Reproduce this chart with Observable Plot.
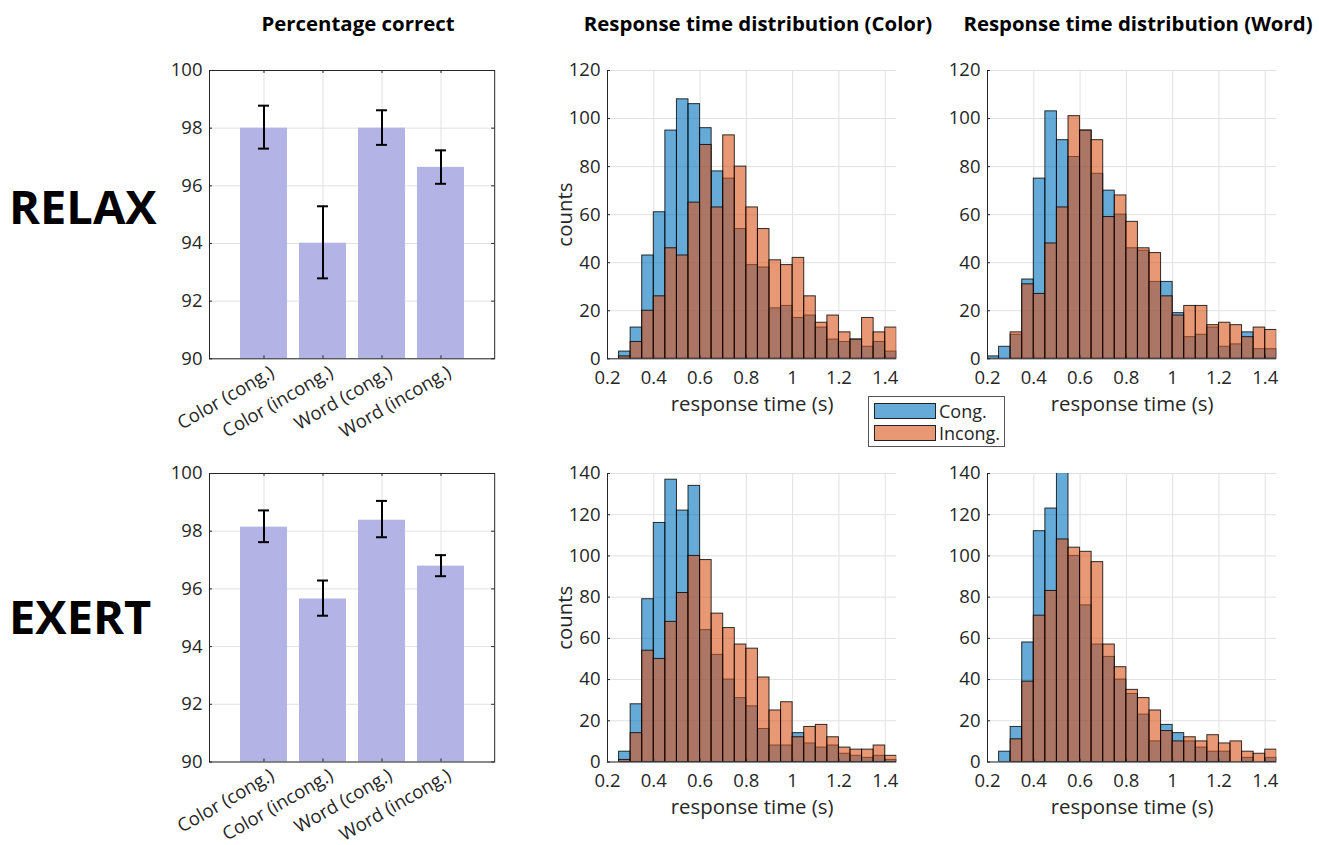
<!DOCTYPE html>
<html>
<head>
<meta charset="utf-8">
<script src="https://cdn.jsdelivr.net/npm/d3@7"></script>
<script src="https://cdn.jsdelivr.net/npm/@observablehq/plot@0.6"></script>
<style>
  html, body { margin: 0; padding: 0; background: #fff; }
  #root { position: relative; width: 1319px; height: 845px; overflow: hidden; font-family: "Open Sans", sans-serif; color: #000; }
  .abs { position: absolute; white-space: nowrap; }
  .title { font-weight: 700; font-size: 20.4px; line-height: 20.4px; text-align: center; width: 440px; color: #000; }
  .cond { font-weight: 700; font-size: 47px; line-height: 47px; color: #000; }
  #legend { position: absolute; left: 868px; top: 396px; width: 135px; height: 49px; border: 1px solid #555; background: #fff; }
  .lg-row { position: absolute; left: 5px; height: 17px; display: flex; align-items: center; }
  .lg-sw { width: 62px; height: 16px; border: 1px solid #222; box-sizing: border-box; }
  .lg-tx { margin-left: 3px; font-size: 18px; color: #262626; line-height: 18px; }
</style>
</head>
<body>
<div id="root"></div>
<script>
// ---------------- data ----------------
const categories = ["Color (cong.)", "Color (incong.)", "Word (cong.)", "Word (incong.)"];
const relaxMean = [98.0, 94.01, 98.0, 96.64];
const relaxLow  = [97.29, 92.79, 97.42, 96.07];
const relaxHigh = [98.78, 95.29, 98.62, 97.23];
const exertMean = [98.14, 95.65, 98.38, 96.79];
const exertLow  = [97.62, 95.07, 97.79, 96.44];
const exertHigh = [98.72, 96.29, 99.05, 97.17];

const binEdges = [0.20, 0.25, 0.30, 0.35, 0.40, 0.45, 0.50, 0.55, 0.60, 0.65, 0.70, 0.75, 0.80,
                  0.85, 0.90, 0.95, 1.00, 1.05, 1.10, 1.15, 1.20, 1.25, 1.30, 1.35, 1.40, 1.45];

const relaxColorCong = [0, 3, 13, 43, 61, 95, 108, 106, 96, 78, 75, 54, 39, 38, 21, 22, 17, 18, 13, 8, 7, 8, 5, 7, 3];
const relaxColorInc  = [0, 1, 7, 20, 26, 46, 43, 65, 89, 63, 93, 80, 63, 54, 41, 39, 42, 26, 15, 18, 11, 8, 17, 11, 13];
const relaxWordCong  = [1, 5, 10, 33, 75, 103, 91, 84, 95, 77, 70, 60, 46, 45, 32, 32, 19, 9, 10, 13, 5, 6, 11, 4, 4];
const relaxWordInc   = [0, 0, 11, 31, 27, 48, 63, 101, 95, 91, 59, 68, 57, 46, 44, 26, 18, 22, 22, 14, 15, 14, 9, 13, 12];
const exertColorCong = [0, 5, 28, 79, 116, 137, 122, 134, 64, 52, 40, 31, 27, 16, 8, 8, 14, 9, 7, 8, 4, 3, 2, 3, 1];
const exertColorInc  = [0, 1, 14, 54, 50, 68, 82, 100, 98, 72, 65, 57, 55, 41, 25, 29, 12, 17, 18, 12, 7, 6, 6, 8, 3];
const exertWordCong  = [0, 5, 17, 58, 112, 123, 142, 100, 76, 57, 51, 40, 33, 23, 10, 18, 14, 10, 7, 5, 5, 0, 2, 0, 2];
const exertWordInc   = [0, 0, 11, 39, 71, 83, 108, 104, 102, 97, 57, 46, 35, 31, 25, 15, 10, 12, 10, 13, 9, 10, 5, 4, 6];

const seriesNames = ["Cong.", "Incong."];
const seriesColors = ["#0072BD", "#D95319"];

const rtTicks = [0.2, 0.4, 0.6, 0.8, 1, 1.2, 1.4];
const countTicksRelax = [0, 20, 40, 60, 80, 100, 120];
const countTicksExert = [0, 20, 40, 60, 80, 100, 120, 140];
const pcTicks = [90, 92, 94, 96, 98, 100];

const panelTitles = ["Percentage correct", "Response time distribution (Color)", "Response time distribution (Word)"];
const conditions = ["RELAX", "EXERT"];

// ---------------- helpers ----------------
const root = document.getElementById("root");
const axisColor = "#262626";
const gridColor = "#e1e1e1";
const tickFont = 18.5;
const labelFont = 20.4;
const baseStyle = { background: "transparent", overflow: "visible", fontFamily: "'Open Sans', sans-serif", fontSize: tickFont + "px", color: axisColor };

function place(el, left, top) {
  el.style.position = "absolute";
  el.style.left = left + "px";
  el.style.top = top + "px";
  root.appendChild(el);
}

function hist(cong, inc, yTicks, frame, showYLabel) {
  const mL = 60, mR = 12, mT = 10, mB = 70;
  const fw = frame.right - frame.left, fh = frame.bottom - frame.top;
  const toRows = arr => arr.map((n, i) => ({x1: binEdges[i], x2: binEdges[i + 1], n})).filter(d => d.n > 0);
  const marks = [
    Plot.gridX(rtTicks, {stroke: gridColor, strokeOpacity: 1}),
    Plot.gridY(yTicks, {stroke: gridColor, strokeOpacity: 1}),
    Plot.rect(toRows(cong), {x1: "x1", x2: "x2", y1: 0, y2: "n", fill: seriesColors[0], fillOpacity: 0.6, stroke: "#000", strokeOpacity: 0.8, strokeWidth: 1, clip: true}),
    Plot.rect(toRows(inc), {x1: "x1", x2: "x2", y1: 0, y2: "n", fill: seriesColors[1], fillOpacity: 0.6, stroke: "#000", strokeOpacity: 0.8, strokeWidth: 1, clip: true}),
    Plot.ruleX([binEdges[0]], {stroke: axisColor}),
    Plot.ruleY([0], {stroke: axisColor}),
    Plot.tickX(rtTicks, {x: d => d, insetTop: fh - 3, stroke: axisColor}),
    Plot.tickY(yTicks, {y: d => d, insetRight: fw - 3, stroke: axisColor}),
    Plot.axisX(rtTicks, {tickSize: 0, tickPadding: 12, tickFormat: d => String(d), label: null, fontSize: tickFont, fill: axisColor}),
    Plot.axisY(yTicks, {tickSize: 0, tickPadding: 7, label: null, fontSize: tickFont, fill: axisColor}),
    Plot.text(["response time (s)"], {frameAnchor: "bottom", textAnchor: "middle", dy: 52.5, fontSize: labelFont, fill: axisColor})
  ];
  if (showYLabel) marks.push(Plot.text(["counts"], {frameAnchor: "left", textAnchor: "middle", dx: -42, rotate: -90, fontSize: labelFont, fill: axisColor}));
  const svg = Plot.plot({
    width: mL + fw + mR, height: mT + fh + mB,
    marginLeft: mL, marginRight: mR, marginTop: mT, marginBottom: mB,
    style: baseStyle,
    x: {domain: [binEdges[0], binEdges[binEdges.length - 1]]},
    y: {domain: [0, yTicks[yTicks.length - 1]]},
    marks
  });
  place(svg, frame.left - mL, frame.top - mT);
}

function bars(mean, low, high, frame) {
  const mL = 60, mR = 12, mT = 10, mB = 110;
  const fw = frame.right - frame.left, fh = frame.bottom - frame.top;
  const rows = categories.map((c, i) => ({c, m: mean[i], lo: low[i], hi: high[i]}));
  const capInset = 18;
  const svg = Plot.plot({
    width: mL + fw + mR, height: mT + fh + mB,
    marginLeft: mL, marginRight: mR, marginTop: mT, marginBottom: mB,
    style: baseStyle,
    x: {domain: categories, type: "band", paddingInner: 0.2, paddingOuter: 0.5, axis: null},
    y: {domain: [pcTicks[0], pcTicks[pcTicks.length - 1]]},
    marks: [
      Plot.gridY(pcTicks, {stroke: gridColor, strokeOpacity: 1}),
      Plot.ruleX(categories, {x: d => d, stroke: gridColor}),
      Plot.barY(rows, {x: "c", y1: pcTicks[0], y2: "m", fill: "#b3b3e6"}),
      Plot.ruleX(rows, {x: "c", y1: "lo", y2: "hi", stroke: "#000", strokeWidth: 2}),
      Plot.tickY(rows, {x: "c", y: "lo", insetLeft: capInset, insetRight: capInset, stroke: "#000", strokeWidth: 2}),
      Plot.tickY(rows, {x: "c", y: "hi", insetLeft: capInset, insetRight: capInset, stroke: "#000", strokeWidth: 2}),
      Plot.frame({stroke: axisColor}),
      Plot.tickX(categories, {x: d => d, insetTop: fh - 3, stroke: axisColor}),
      Plot.tickX(categories, {x: d => d, insetBottom: fh - 3, stroke: axisColor}),
      Plot.tickY(pcTicks, {y: d => d, insetRight: fw - 3, stroke: axisColor}),
      Plot.tickY(pcTicks, {y: d => d, insetLeft: fw - 3, stroke: axisColor}),
      Plot.text(categories, {x: d => d, frameAnchor: "bottom", rotate: -30, textAnchor: "end", lineAnchor: "middle", dx: 8.5, dy: 12, fontSize: tickFont, fill: axisColor}),
      Plot.axisY(pcTicks, {tickSize: 0, tickPadding: 7, label: null, fontSize: tickFont, fill: axisColor})
    ]
  });
  place(svg, frame.left - mL, frame.top - mT);
}

// ---------------- panels ----------------
const rowTop = [{top: 69.5, bottom: 357.8}, {top: 472.5, bottom: 761}];
const colBar = {left: 209.3, right: 494.5};
const colColor = {left: 606.7, right: 896};
const colWord = {left: 986.7, right: 1276};

bars(relaxMean, relaxLow, relaxHigh, {...colBar, ...rowTop[0]});
bars(exertMean, exertLow, exertHigh, {...colBar, ...rowTop[1]});
hist(relaxColorCong, relaxColorInc, countTicksRelax, {...colColor, ...rowTop[0]}, true);
hist(relaxWordCong, relaxWordInc, countTicksRelax, {...colWord, ...rowTop[0]}, false);
hist(exertColorCong, exertColorInc, countTicksExert, {...colColor, ...rowTop[1]}, true);
hist(exertWordCong, exertWordInc, countTicksExert, {...colWord, ...rowTop[1]}, false);

// ---------------- titles / labels ----------------
const titleCenters = [358, 758, 1138];
panelTitles.forEach((t, i) => {
  const d = document.createElement("div");
  d.className = "abs title";
  d.textContent = t;
  place(d, titleCenters[i] - 220, 13);
});
const condTops = [183.3, 592.8];
conditions.forEach((c, i) => {
  const d = document.createElement("div");
  d.className = "abs cond";
  d.textContent = c;
  place(d, 9, condTops[i]);
});

// ---------------- legend ----------------
const legend = document.createElement("div");
legend.id = "legend";
seriesNames.forEach((name, i) => {
  const row = document.createElement("div");
  row.className = "lg-row";
  row.style.top = (5 + i * 22) + "px";
  const sw = document.createElement("div");
  sw.className = "lg-sw";
  sw.style.background = d3.interpolateRgb("#ffffff", seriesColors[i])(0.6);
  const tx = document.createElement("span");
  tx.className = "lg-tx";
  tx.textContent = name;
  row.appendChild(sw);
  row.appendChild(tx);
  legend.appendChild(row);
});
root.appendChild(legend);
</script>
</body>
</html>
